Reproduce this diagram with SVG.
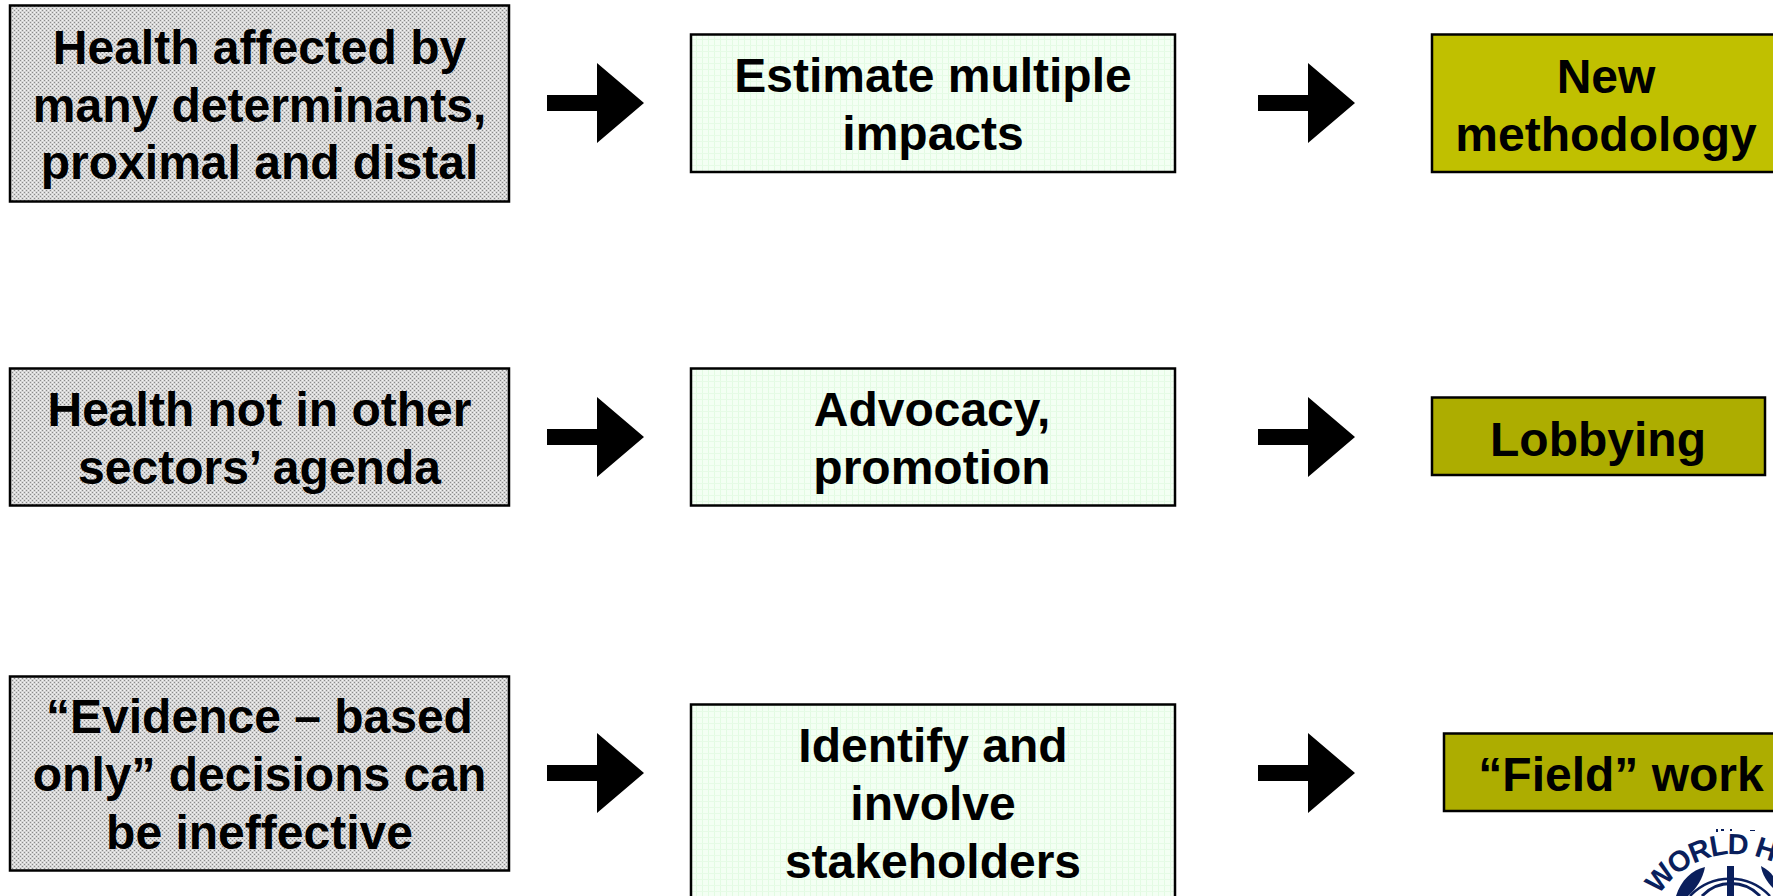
<svg xmlns="http://www.w3.org/2000/svg" width="1773" height="896" viewBox="0 0 1773 896">
<style>
.box{stroke:#000;stroke-width:2.5}
.grey{fill:url(#dither)}
.green{fill:url(#grid)}
.ol1{fill:#c0c000}
.ol2{fill:#adad00}
text{font-family:"Liberation Sans",Arial,sans-serif;font-weight:700;font-size:48px;fill:#000;text-anchor:middle}
text.who{font-size:29px;letter-spacing:-1.500px;text-anchor:start;fill:#0a1f5c}
.who{fill:#0a1f5c;stroke:none}
.whoLine{fill:none;stroke:#0a1f5c}
</style>
<defs>
<pattern id="dither" width="4" height="4" patternUnits="userSpaceOnUse">
<rect width="4" height="4" fill="#d6d6d6"/>
<rect x="0" y="0" width="1" height="1" fill="#8a8a8a"/>
<rect x="2" y="2" width="1" height="1" fill="#8a8a8a"/>
<rect x="2" y="0" width="1" height="1" fill="#f4f4f4"/>
<rect x="0" y="2" width="1" height="1" fill="#f4f4f4"/>
</pattern>
<pattern id="grid" width="6" height="6" patternUnits="userSpaceOnUse">
<rect width="6" height="6" fill="#f3fff3"/>
<rect x="0" y="0" width="1" height="6" fill="#e2fbe2"/>
<rect x="0" y="3" width="6" height="1" fill="#e6fbe6"/>
</pattern>
<polygon id="arrow" points="547,-8 597,-8 597,-40 644,0 597,40 597,8 547,8"/>
<path id="whoArc" d="M1659,895.400 A91,91 0 0 1 1814,899.500"/>
</defs>

<g id="connectors">
<use href="#arrow" y="103"/>
<use href="#arrow" x="711" y="103"/>
<use href="#arrow" y="437"/>
<use href="#arrow" x="711" y="437"/>
<use href="#arrow" y="773"/>
<use href="#arrow" x="711" y="773"/>
</g>

<g id="node-health-determinants">
<rect class="box grey" x="10" y="5.500" width="499" height="196"/>
<text x="259.500" y="64">Health affected by</text>
<text x="259.500" y="122">many determinants,</text>
<text x="259.500" y="179">proximal and distal</text>
</g>
<g id="node-estimate">
<rect class="box green" x="691" y="34.500" width="484" height="137.500"/>
<text x="933" y="92">Estimate multiple</text>
<text x="933" y="150">impacts</text>
</g>
<g id="node-methodology">
<rect class="box ol1" x="1432" y="34.500" width="360" height="137.500"/>
<text x="1606" y="93">New</text>
<text x="1606" y="151">methodology</text>
</g>

<g id="node-agenda">
<rect class="box grey" x="10" y="368.500" width="499" height="137"/>
<text x="259.500" y="426">Health not in other</text>
<text x="259.500" y="484">sectors’ agenda</text>
</g>
<g id="node-advocacy">
<rect class="box green" x="691" y="368.500" width="484" height="137"/>
<text x="932" y="426">Advocacy,</text>
<text x="932" y="484">promotion</text>
</g>
<g id="node-lobbying">
<rect class="box ol2" x="1432" y="397.500" width="333" height="77.500"/>
<text x="1598" y="456">Lobbying</text>
</g>

<g id="node-evidence">
<rect class="box grey" x="10" y="676.500" width="499" height="194"/>
<text x="259.500" y="733">“Evidence – based</text>
<text x="259.500" y="791">only” decisions can</text>
<text x="259.500" y="849">be ineffective</text>
</g>
<g id="node-stakeholders">
<rect class="box green" x="691" y="704.500" width="484" height="210"/>
<text x="933" y="762">Identify and</text>
<text x="933" y="820">involve</text>
<text x="933" y="878">stakeholders</text>
</g>
<g id="node-fieldwork">
<rect class="box ol2" x="1444" y="733.500" width="360" height="77.500"/>
<text x="1621" y="791">“Field” work</text>
</g>

<g id="who-logo">
<text class="who"><textPath href="#whoArc">WORLD HE</textPath></text>
<rect class="who" x="1716" y="829" width="2" height="3"/>
<rect class="who" x="1721" y="829" width="3" height="2"/>
<rect class="who" x="1730" y="829" width="2" height="2"/>
<rect class="who" x="1750" y="830" width="5" height="1"/>
<rect class="who" x="1727" y="866" width="7" height="30"/>
<path class="whoLine" stroke-width="2.500" d="M1690,896 A55,55 0 0 1 1770,896"/>
<path class="whoLine" stroke-width="3" d="M1702,896 A40,40 0 0 1 1760,896"/>
<path class="who" d="M1705,867 C1692,870 1681,880 1676,896 L1688,896 C1697,888 1703,878 1705,867Z"/>
<path class="who" d="M1761,866 C1767,869 1771,873 1773,876 L1773,888 C1767,882 1762,874 1761,866Z"/>
</g>
</svg>
